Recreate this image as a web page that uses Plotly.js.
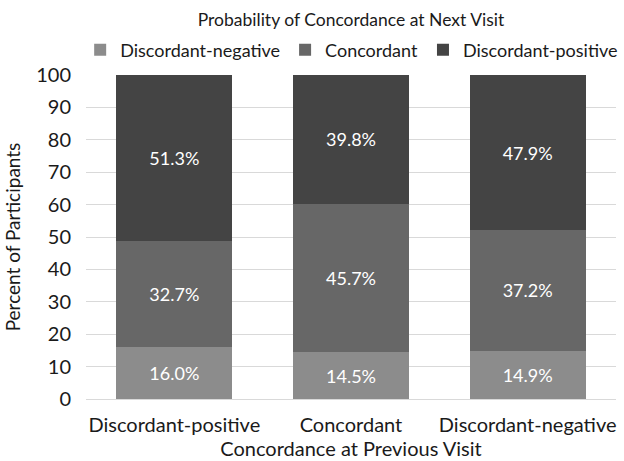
<!DOCTYPE html>
<html><head><meta charset="utf-8">
<script src="https://cdn.plot.ly/plotly-3.0.1.min.js"></script>
<style>html,body{margin:0;padding:0;background:#fff}</style>
</head><body><div id="chart" style="width:624px;height:461px"></div>
<script>
var categories = ["Discordant-positive", "Concordant", "Discordant-negative"];
var seriesNames = ["Discordant-negative", "Concordant", "Discordant-positive"];
var discNeg = [16.0, 14.5, 14.9];
var concord = [32.7, 45.7, 37.2];
var discPos = [51.3, 39.8, 47.9];
var colors = ["#8c8c8c", "#676767", "#444444"];
var values = [discNeg, concord, discPos];
var FONT = "Lato, 'Open Sans', sans-serif";

var traces = values.map(function (v, i) {
  return {
    type: "bar", name: seriesNames[i], x: categories, y: v,
    marker: {color: colors[i]},
    texttemplate: "%{y:.1f}%", textposition: "inside", insidetextanchor: "middle",
    textangle: 0, constraintext: "none",
    textfont: {family: FONT, size: 18, color: "#ffffff"},
    hoverinfo: "skip"
  };
});

var layout = {
  width: 624, height: 461,
  margin: {l: 85.5, r: 7.5, t: 75, b: 62},
  barmode: "stack", bargap: 0.345,
  paper_bgcolor: "#fff", plot_bgcolor: "#fff",
  font: {family: FONT, size: 20, color: "#1a1a1a"},
  title: {text: "Probability of Concordance at Next Visit", font: {family: FONT, size: 17.5, color: "#1a1a1a"},
          x: 0.5, xref: "paper", xanchor: "center", y: 1 - 20/461, yref: "container", yanchor: "middle"},
  legend: {orientation: "h", x: -0.011, xanchor: "left", y: 1 + 25/324, yanchor: "middle",
           font: {family: FONT, size: 18, color: "#1a1a1a"}, itemwidth: 30, traceorder: "normal"},
  xaxis: {title: {text: "Concordance at Previous Visit", standoff: 4, font: {family: FONT, size: 20}},
          showline: false, ticks: "", tickfont: {family: FONT, size: 20}, showgrid: false,
          ticklabelstandoff: 12},
  yaxis: {title: {text: "Percent of Participants", standoff: 10, font: {family: FONT, size: 19}},
          range: [0, 100], dtick: 10, showgrid: true, gridcolor: "#d9d9d9", gridwidth: 1,
          zeroline: true, zerolinecolor: "#d9d9d9", zerolinewidth: 1, showline: false,
          tickfont: {family: FONT, size: 20}, ticks: "", ticklen: 0, ticklabelstandoff: 14}
};

Plotly.newPlot("chart", traces, layout, {displayModeBar: false, staticPlot: true});
</script></body></html>
